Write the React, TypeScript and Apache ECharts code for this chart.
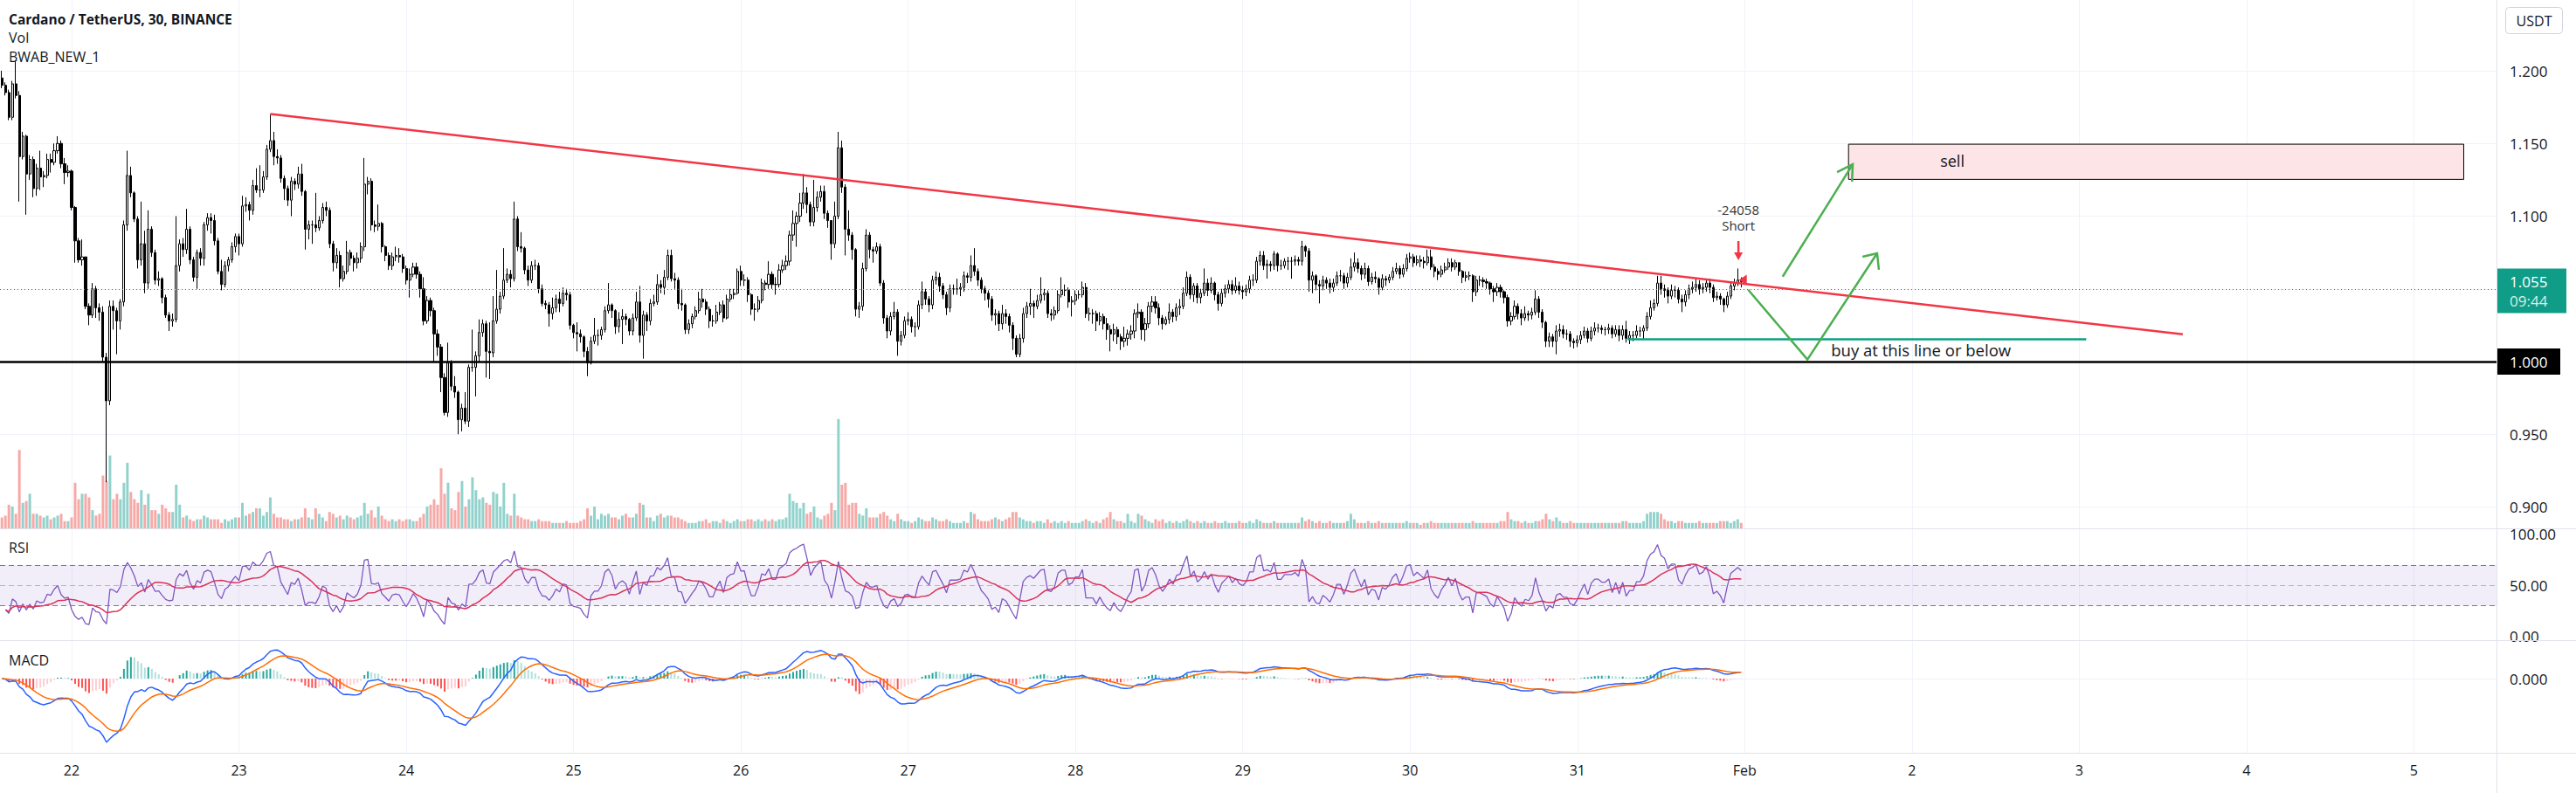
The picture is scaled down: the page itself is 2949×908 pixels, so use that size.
import React, { useEffect, useRef } from "react";
import * as echarts from "echarts";

// ---------- DATA (30-minute candles, ADA/USDT) ----------
const firstOpen = 1.195;
// each candle: [close, high, low]; open = previous close
const jan21 = [
  [1.190,1.200,1.188],[1.185,1.192,1.183],[1.168,1.187,1.166],[1.191,1.193,1.166],[1.183,1.207,1.181],
  [1.141,1.186,1.110],[1.155,1.158,1.139],[1.129,1.156,1.101],[1.139,1.142,1.125],[1.119,1.141,1.113],
  [1.133,1.136,1.114],[1.127,1.145,1.118],[1.128,1.131,1.120],[1.139,1.143,1.126],[1.137,1.143,1.130],
  [1.145,1.150,1.135],[1.150,1.155,1.143],[1.136,1.152,1.133],[1.130,1.140,1.122],[1.131,1.135,1.127]];
const jan22 = [
  [1.106,1.132,1.104],[1.083,1.107,1.068],[1.070,1.085,1.068],[1.072,1.084,1.066],[1.038,1.072,1.036],
  [1.032,1.040,1.025],[1.050,1.054,1.030],[1.037,1.052,1.030],[1.034,1.040,1.028],[1.003,1.038,1.000],
  [0.973,1.006,0.917],[1.038,1.042,0.970],[1.035,1.042,1.022],[1.028,1.037,1.005],[1.041,1.043,1.022],
  [1.094,1.097,1.038],[1.128,1.145,1.090],[1.116,1.134,1.113],[1.098,1.117,1.096],[1.070,1.100,1.064],
  [1.081,1.110,1.066],[1.054,1.090,1.047],[1.091,1.104,1.050],[1.075,1.093,1.072],[1.056,1.077,1.053],
  [1.057,1.062,1.052],[1.044,1.058,1.040],[1.032,1.046,1.030],[1.028,1.034,1.021],[1.029,1.033,1.024],
  [1.066,1.100,1.027],[1.081,1.084,1.062],[1.077,1.085,1.072],[1.091,1.105,1.074],[1.070,1.093,1.067],
  [1.058,1.072,1.055],[1.075,1.077,1.050],[1.071,1.078,1.066],[1.094,1.096,1.066],[1.099,1.102,1.090],
  [1.097,1.102,1.088],[1.083,1.101,1.080],[1.062,1.085,1.060],[1.053,1.070,1.049],[1.066,1.069,1.051],
  [1.070,1.072,1.062],[1.079,1.082,1.068],[1.086,1.088,1.075]];
const jan23 = [
  [1.081,1.088,1.073],[1.107,1.114,1.079],[1.108,1.113,1.103],[1.104,1.110,1.097],[1.121,1.125,1.101],
  [1.118,1.133,1.116],[1.118,1.135,1.113],[1.127,1.131,1.116],[1.146,1.149,1.125],[1.152,1.170,1.144],
  [1.141,1.158,1.135],[1.140,1.146,1.136],[1.126,1.142,1.123],[1.119,1.128,1.111],[1.111,1.121,1.107],
  [1.124,1.127,1.100],[1.122,1.126,1.118],[1.129,1.134,1.119],[1.117,1.136,1.114],[1.091,1.118,1.077],
  [1.094,1.097,1.084],[1.094,1.097,1.081],[1.092,1.116,1.089],[1.097,1.100,1.090],[1.106,1.109,1.095],
  [1.104,1.110,1.100],[1.081,1.106,1.078],[1.068,1.083,1.062],[1.073,1.078,1.064],[1.057,1.076,1.051],
  [1.062,1.066,1.055],[1.075,1.083,1.060],[1.071,1.077,1.066],[1.068,1.073,1.062],[1.071,1.075,1.064],
  [1.079,1.082,1.068],[1.122,1.140,1.076],[1.124,1.127,1.115],[1.094,1.126,1.090],[1.093,1.097,1.089],
  [1.095,1.108,1.090],[1.079,1.096,1.075],[1.073,1.080,1.069],[1.066,1.075,1.063],[1.072,1.075,1.063],
  [1.073,1.079,1.069],[1.072,1.078,1.068],[1.064,1.074,1.061]];
const jan24 = [
  [1.056,1.066,1.053],[1.060,1.064,1.044],[1.065,1.068,1.058],[1.060,1.068,1.057],[1.050,1.062,1.044],
  [1.028,1.058,1.025],[1.042,1.045,1.026],[1.035,1.044,1.031],[1.019,1.037,1.000],[1.010,1.022,1.004],
  [0.989,1.012,0.979],[0.965,0.992,0.963],[0.999,1.013,0.962],[0.983,1.001,0.980],[0.979,0.990,0.975],
  [0.960,0.980,0.950],[0.968,0.971,0.952],[0.959,0.979,0.957],[0.996,0.998,0.955],[0.996,1.022,0.993],
  [1.004,1.007,0.976],[1.020,1.029,1.000],[1.026,1.029,1.017],[1.007,1.028,0.989],[1.006,1.027,0.988],
  [1.028,1.045,1.003],[1.036,1.063,1.026],[1.045,1.048,1.033],[1.056,1.078,1.043],[1.060,1.064,1.054],
  [1.057,1.063,1.051],[1.098,1.110,1.055],[1.079,1.100,1.076],[1.078,1.089,1.075],[1.063,1.079,1.060],
  [1.056,1.066,1.052],[1.066,1.069,1.054],[1.066,1.070,1.063],[1.050,1.068,1.047],[1.040,1.053,1.038],
  [1.039,1.042,1.036],[1.033,1.041,1.024],[1.037,1.044,1.029],[1.043,1.046,1.034],[1.040,1.048,1.034],
  [1.047,1.051,1.038],[1.046,1.050,1.042],[1.025,1.048,1.022]];
const jan25 = [
  [1.020,1.026,1.016],[1.019,1.027,1.007],[1.017,1.022,1.013],[1.007,1.018,1.003],[0.999,1.010,0.990],
  [1.014,1.017,0.998],[1.018,1.030,1.012],[1.018,1.022,1.011],[1.022,1.024,1.015],[1.035,1.038,1.020],
  [1.039,1.054,1.033],[1.035,1.040,1.030],[1.024,1.036,1.019],[1.029,1.034,1.020],[1.031,1.036,1.012],
  [1.029,1.033,1.025],[1.021,1.030,1.018],[1.030,1.033,1.018],[1.041,1.048,1.028],[1.018,1.052,1.013],
  [1.032,1.035,1.002],[1.028,1.034,1.021],[1.040,1.043,1.025],[1.041,1.046,1.038],[1.053,1.060,1.039],
  [1.051,1.056,1.047],[1.058,1.063,1.046],[1.073,1.077,1.056],[1.057,1.077,1.055],[1.056,1.061,1.050],
  [1.040,1.058,1.036],[1.039,1.050,1.035],[1.022,1.040,1.019],[1.026,1.029,1.019],[1.031,1.033,1.023],
  [1.035,1.038,1.029],[1.043,1.048,1.033],[1.041,1.050,1.037],[1.036,1.043,1.032],[1.028,1.038,1.023],
  [1.028,1.032,1.024],[1.034,1.039,1.026],[1.039,1.041,1.032],[1.030,1.042,1.027],[1.043,1.046,1.029],
  [1.046,1.050,1.041],[1.047,1.050,1.043],[1.062,1.064,1.046]];
const jan26 = [
  [1.056,1.066,1.052],[1.056,1.060,1.052],[1.046,1.058,1.041],[1.036,1.047,1.032],[1.036,1.040,1.028],
  [1.042,1.045,1.034],[1.054,1.057,1.040],[1.053,1.056,1.049],[1.060,1.069,1.050],[1.053,1.062,1.050],
  [1.053,1.058,1.046],[1.063,1.067,1.051],[1.066,1.070,1.061],[1.069,1.073,1.063],[1.087,1.090,1.066],
  [1.095,1.104,1.083],[1.100,1.103,1.079],[1.109,1.116,1.096],[1.116,1.129,1.105],[1.108,1.120,1.102],
  [1.096,1.110,1.093],[1.106,1.125,1.093],[1.113,1.117,1.103],[1.117,1.121,1.110],[1.102,1.121,1.098],
  [1.097,1.104,1.092],[1.081,1.097,1.070],[1.100,1.110,1.078],[1.147,1.158,1.098],[1.120,1.152,1.116],
  [1.091,1.122,1.073],[1.087,1.104,1.083],[1.077,1.089,1.070],[1.036,1.078,1.031],[1.038,1.041,1.030],
  [1.064,1.068,1.035],[1.087,1.091,1.062],[1.077,1.089,1.071],[1.076,1.079,1.068],[1.079,1.082,1.074],
  [1.054,1.081,1.052],[1.030,1.056,1.026],[1.021,1.032,1.016],[1.031,1.034,1.018],[1.034,1.041,1.029],
  [1.014,1.036,1.004],[1.018,1.021,1.011],[1.028,1.031,1.016]];
const jan27 = [
  [1.029,1.034,1.025],[1.024,1.031,1.020],[1.024,1.027,1.017],[1.039,1.042,1.022],[1.048,1.055,1.036],
  [1.043,1.050,1.039],[1.039,1.045,1.034],[1.056,1.059,1.036],[1.058,1.062,1.053],[1.052,1.061,1.048],
  [1.046,1.054,1.043],[1.037,1.048,1.032],[1.050,1.053,1.034],[1.050,1.053,1.046],[1.050,1.057,1.046],
  [1.051,1.054,1.045],[1.059,1.062,1.048],[1.058,1.061,1.054],[1.066,1.073,1.055],[1.062,1.078,1.059],
  [1.056,1.064,1.052],[1.050,1.058,1.047],[1.047,1.052,1.042],[1.043,1.049,1.037],[1.032,1.045,1.028],
  [1.033,1.036,1.025],[1.026,1.035,1.021],[1.033,1.039,1.022],[1.031,1.036,1.026],[1.025,1.033,1.020],
  [1.016,1.027,1.008],[1.005,1.018,1.003],[1.016,1.019,1.003],[1.033,1.037,1.013],[1.038,1.041,1.030],
  [1.040,1.050,1.032],[1.038,1.042,1.030],[1.042,1.046,1.036],[1.046,1.058,1.040],[1.047,1.050,1.042],
  [1.033,1.049,1.030],[1.032,1.036,1.028],[1.035,1.038,1.029],[1.046,1.049,1.033],[1.049,1.058,1.044],
  [1.049,1.053,1.045],[1.041,1.051,1.037],[1.042,1.045,1.031]];
const jan28 = [
  [1.046,1.049,1.039],[1.046,1.049,1.043],[1.051,1.055,1.044],[1.033,1.054,1.030],[1.033,1.037,1.028],
  [1.033,1.036,1.026],[1.028,1.035,1.021],[1.031,1.034,1.025],[1.026,1.033,1.022],[1.022,1.030,1.015],
  [1.019,1.025,1.007],[1.022,1.026,1.014],[1.017,1.024,1.012],[1.014,1.019,1.008],[1.016,1.024,1.010],
  [1.019,1.022,1.011],[1.021,1.025,1.015],[1.033,1.036,1.016],[1.034,1.040,1.030],[1.022,1.036,1.015],
  [1.026,1.030,1.014],[1.038,1.041,1.023],[1.041,1.045,1.034],[1.037,1.045,1.033],[1.030,1.040,1.025],
  [1.026,1.032,1.022],[1.029,1.031,1.025],[1.034,1.040,1.026],[1.031,1.036,1.027],[1.037,1.040,1.028],
  [1.038,1.043,1.032],[1.047,1.051,1.036],[1.058,1.062,1.045],[1.046,1.060,1.043],[1.052,1.054,1.041],
  [1.044,1.054,1.040],[1.047,1.050,1.040],[1.054,1.064,1.045],[1.049,1.057,1.045],[1.054,1.058,1.047],
  [1.046,1.055,1.042],[1.040,1.048,1.035],[1.047,1.050,1.038],[1.050,1.053,1.044],[1.053,1.056,1.047],
  [1.049,1.056,1.046],[1.052,1.058,1.047],[1.049,1.055,1.046]];
const jan29 = [
  [1.048,1.052,1.043],[1.050,1.053,1.045],[1.056,1.059,1.047],[1.056,1.060,1.052],[1.069,1.072,1.054],
  [1.073,1.076,1.066],[1.066,1.076,1.063],[1.067,1.070,1.057],[1.066,1.069,1.062],[1.074,1.076,1.063],
  [1.066,1.075,1.062],[1.066,1.070,1.063],[1.069,1.071,1.064],[1.069,1.072,1.063],[1.069,1.072,1.057],
  [1.070,1.073,1.066],[1.069,1.072,1.066],[1.079,1.083,1.066],[1.076,1.080,1.072],[1.056,1.078,1.048],
  [1.059,1.062,1.047],[1.053,1.060,1.049],[1.052,1.056,1.040],[1.056,1.059,1.049],[1.054,1.058,1.050],
  [1.051,1.057,1.047],[1.054,1.057,1.048],[1.059,1.062,1.052],[1.059,1.063,1.055],[1.054,1.061,1.050],
  [1.058,1.061,1.051],[1.065,1.071,1.056],[1.068,1.075,1.062],[1.064,1.071,1.061],[1.060,1.066,1.056],
  [1.064,1.068,1.057],[1.055,1.066,1.052],[1.058,1.061,1.053],[1.057,1.062,1.054],[1.051,1.058,1.046],
  [1.057,1.060,1.049],[1.056,1.059,1.052],[1.058,1.060,1.054],[1.062,1.065,1.056],[1.064,1.068,1.060],
  [1.060,1.066,1.057],[1.064,1.067,1.058],[1.071,1.074,1.062]];
const jan30 = [
  [1.072,1.075,1.068],[1.068,1.074,1.065],[1.070,1.073,1.066],[1.069,1.073,1.065],[1.068,1.072,1.064],
  [1.072,1.077,1.066],[1.065,1.077,1.063],[1.062,1.067,1.058],[1.060,1.064,1.056],[1.063,1.066,1.058],
  [1.065,1.068,1.061],[1.068,1.071,1.063],[1.065,1.071,1.062],[1.068,1.070,1.063],[1.062,1.068,1.059],
  [1.058,1.063,1.054],[1.059,1.062,1.055],[1.059,1.062,1.056],[1.048,1.060,1.041],[1.056,1.059,1.045],
  [1.056,1.059,1.052],[1.055,1.058,1.051],[1.054,1.057,1.050],[1.050,1.055,1.046],[1.048,1.052,1.041],
  [1.051,1.054,1.045],[1.048,1.053,1.044],[1.044,1.049,1.040],[1.028,1.046,1.024],[1.031,1.034,1.025],
  [1.038,1.042,1.029],[1.033,1.040,1.029],[1.030,1.036,1.025],[1.033,1.038,1.028],[1.032,1.035,1.028],
  [1.034,1.037,1.029],[1.043,1.049,1.032],[1.034,1.045,1.030],[1.027,1.036,1.023],[1.014,1.028,1.010],
  [1.017,1.020,1.010],[1.014,1.019,1.010],[1.021,1.025,1.005],[1.022,1.026,1.017],[1.019,1.025,1.016],
  [1.019,1.022,1.015],[1.014,1.021,1.010],[1.013,1.016,1.009]];
const jan31 = [
  [1.015,1.018,1.010],[1.018,1.021,1.012],[1.021,1.024,1.016],[1.016,1.023,1.013],[1.021,1.024,1.014],
  [1.023,1.027,1.018],[1.023,1.026,1.020],[1.022,1.025,1.019],[1.022,1.024,1.018],[1.023,1.026,1.019],
  [1.019,1.025,1.016],[1.022,1.025,1.017],[1.018,1.025,1.014],[1.022,1.025,1.015],[1.016,1.028,1.013],
  [1.018,1.021,1.012],[1.018,1.021,1.014],[1.021,1.025,1.016],[1.021,1.024,1.017],[1.023,1.025,1.015],
  [1.031,1.034,1.021],[1.037,1.042,1.029],[1.040,1.043,1.035],[1.054,1.059,1.038],[1.050,1.059,1.046],
  [1.049,1.053,1.044],[1.045,1.051,1.040],[1.049,1.053,1.043],[1.049,1.052,1.044],[1.043,1.051,1.040],
  [1.041,1.046,1.034],[1.046,1.049,1.038],[1.050,1.053,1.043],[1.051,1.055,1.047],[1.053,1.057,1.048],
  [1.050,1.056,1.046],[1.051,1.054,1.047],[1.054,1.057,1.048],[1.051,1.057,1.047],[1.044,1.053,1.041],
  [1.045,1.048,1.042],[1.043,1.047,1.039],[1.039,1.044,1.034],[1.045,1.048,1.037],[1.052,1.055,1.043],
  [1.054,1.057,1.049],[1.056,1.064,1.052],[1.055,1.058,1.051]];
const candleDays = [jan21, jan22, jan23, jan24, jan25, jan26, jan27, jan28, jan29, jan30, jan31];

// volume per candle, millions of ADA
const vol21 = [6,7,13,12,8,43,14,15,19,8,8,7,6,7,5,6,7,8,4,4];
const vol22 = [6,25,16,19,19,17,10,7,8,29,26,40,16,19,16,25,36,20,16,14,21,13,19,10,10,8,13,11,9,9,24,13,6,7,5,4,5,5,7,6,5,5,5,3,5,4,5,6];
const vol23 = [6,14,7,8,9,11,11,7,9,17,8,6,6,5,5,4,5,5,6,11,6,5,11,8,6,4,9,8,6,7,5,7,6,5,6,7,14,8,10,6,12,7,5,4,5,4,5,4];
const vol24 = [5,5,4,4,6,8,12,13,16,13,33,19,25,11,10,20,26,12,16,28,21,16,17,14,13,20,19,12,25,8,7,19,7,6,5,5,4,4,5,4,4,4,3,3,3,3,4,3];
const vol25 = [3,3,4,5,11,7,12,5,8,7,8,6,6,5,7,8,6,6,8,14,13,6,6,4,7,8,6,7,7,6,6,5,4,3,3,3,4,4,5,3,4,4,3,5,4,3,4,5];
const vol26 = [4,4,5,5,4,5,4,5,4,5,4,5,5,6,19,15,14,11,14,8,9,12,6,5,7,8,14,10,60,24,25,13,14,14,8,7,11,6,6,6,8,9,7,5,4,8,5,4];
const vol27 = [4,3,4,6,5,4,4,6,5,4,4,5,4,3,3,3,4,3,9,8,5,4,4,4,5,6,5,4,5,6,9,9,6,5,4,4,3,4,4,3,5,3,4,3,4,3,4,3];
const vol28 = [3,3,4,5,4,3,4,3,5,6,9,5,4,4,3,8,4,3,8,7,5,4,3,5,4,5,3,4,3,4,3,4,5,4,3,4,3,4,3,3,4,3,3,4,3,3,3,4];
const vol29 = [3,3,4,3,5,4,3,3,3,4,3,3,3,3,3,3,3,6,4,5,4,3,4,3,3,4,3,3,3,3,4,8,5,3,3,3,4,3,3,4,3,3,3,3,3,3,3,4];
const vol30 = [3,3,3,2,3,3,4,3,3,3,3,3,3,3,3,3,3,3,4,3,3,3,3,3,3,3,4,4,9,5,4,4,3,4,3,3,4,4,5,8,5,4,6,4,3,3,4,3];
const vol31 = [3,3,3,3,3,3,3,3,3,3,3,3,3,4,4,3,3,3,3,4,8,9,9,9,8,5,4,4,3,4,4,3,3,3,3,4,3,3,3,3,3,4,4,4,3,4,5,3];
const volumeDays = [vol21, vol22, vol23, vol24, vol25, vol26, vol27, vol28, vol29, vol30, vol31];

// time axis: candle index of each day boundary, and its label
const dayTickIndex = [20, 68, 116, 164, 212, 260, 308, 356, 404, 452, 500, 548, 596, 644, 692];
const dayTickLabels = ["22", "23", "24", "25", "26", "27", "28", "29", "30", "31", "Feb", "2", "3", "4", "5"];
const priceGridTicks = [0.9, 0.95, 1.0, 1.05, 1.1, 1.15, 1.2];
const priceLabelTicks = [0.9, 0.95, 1.1, 1.15, 1.2];
const rsiLabelTicks = [0, 50, 100];
const rsiBandLevels = [70, 50, 30];
const rsiLength = 7;
const rsiMaLength = 14;

// drawings (candle index, price)
const trendLine = [[77, 1.1703], [625.7, 1.0188]];
const buyLine = [[466.4, 1.0153], [598.0, 1.0153]];
const supportLevel = 1.0;
const lastPrice = 1.055;
const countdown = "09:44";
const sellBox = [[529.8, 1.1495], [706.3, 1.1253]];
const arrowDownUp = [[501.0, 1.0494], [518.0, 1.0014], [538.0, 1.0745]];
const arrowDownUpHead = [[533.8, 1.0721], [538.0, 1.0745], [538.5, 1.0631]];
const arrowUp = [[510.9, 1.0584], [531.0, 1.1357]];
const arrowUpHead = [[526.5, 1.1303], [531.0, 1.1357], [530.8, 1.1237]];
const buyTextAt = [524.8, 1.0084];
const sellTextAt = [556.1, 1.1381];
const signalText = ["-24058", "Short"];
const signalAt = { k: 498.2, text1: 1.1045, text2: 1.0937, arrowTop: 1.0829, arrowTip: 1.0697, markerK: 499.6, markerP: 1.0562 };

// ---------- helpers ----------
const FONT = "'Open Sans', 'Noto Sans', sans-serif";
const X_MIN = -0.55;
const X_MAX = 715.7;

function buildSeriesData() {
  const candles: number[][] = [];
  const closes: number[] = [];
  let prev = firstOpen;
  candleDays.flat().forEach((c, i) => {
    const [cl, h, l] = c;
    candles.push([i, prev, cl, Math.min(l, prev, cl), Math.max(h, prev, cl)]);
    closes.push(cl);
    prev = cl;
  });
  const vols = volumeDays.flat();
  const volData = vols.map((v, i) => ({
    value: [i, v],
    itemStyle: { color: candles[i][2] >= candles[i][1] ? "#92D2CC" : "#F7A9A7" },
  }));
  // RSI (Wilder)
  const n = rsiLength;
  let ag = 0, al = 0;
  for (let i = 1; i <= n; i++) {
    const d = closes[i] - closes[i - 1];
    ag += Math.max(d, 0) / n;
    al += Math.max(-d, 0) / n;
  }
  const rsi: (number | null)[] = [null];
  let g = ag, l = al;
  for (let i = 1; i < closes.length; i++) {
    const d = closes[i] - closes[i - 1];
    g = (g * (n - 1) + Math.max(d, 0)) / n;
    l = (l * (n - 1) + Math.max(-d, 0)) / n;
    rsi.push(l === 0 ? 100 : 100 - 100 / (1 + g / l));
  }
  const m = rsiMaLength;
  const rsiMa: (number | null)[] = rsi.map((_, i) => {
    const w = rsi.slice(Math.max(1, i - m + 1), i + 1).filter((v) => v != null) as number[];
    return w.length ? w.reduce((a, b) => a + b, 0) / w.length : null;
  });
  // MACD 12/26/9
  const ema = (arr: number[], p: number) => {
    const a = 2 / (p + 1);
    let e = arr[0];
    return arr.map((v) => (e = a * v + (1 - a) * e));
  };
  const e12 = ema(closes, 12);
  const e26 = ema(closes, 26);
  const macd = closes.map((_, i) => e12[i] - e26[i]);
  const signal = ema(macd, 9);
  const hist = macd.map((mv, i) => mv - signal[i]);
  const histData = hist.map((h, i) => {
    const p = i > 0 ? hist[i - 1] : h;
    const color = h >= 0 ? (h >= p ? "#26A69A" : "#B2DFDB") : (h < p ? "#FF5252" : "#FFCDD2");
    return { value: [i, h], itemStyle: { color } };
  });
  return { candles, volData, rsi, rsiMa, macd, signal, histData };
}

export default function App() {
  const ref = useRef<HTMLDivElement>(null);
  useEffect(() => {
    const el = ref.current;
    if (!el) return;
    const chart = echarts.init(el, null, { renderer: "svg" });
    const { candles, volData, rsi, rsiMa, macd, signal, histData } = buildSeriesData();

    const macdLow = Math.min(...macd, ...signal);
    const macdUnit = 73 / -macdLow; // px per unit
    const macdMax = 43 / macdUnit;
    const macdMin = -85 / macdUnit;

    const gridLine = { show: true, lineStyle: { color: "#F0F3FA", width: 1 } };
    const xBase = {
      type: "value" as const,
      min: X_MIN,
      max: X_MAX,
      axisLine: { show: false },
      axisTick: { show: false, customValues: dayTickIndex },
      axisLabel: { show: false },
      splitLine: gridLine,
    };
    const labelStyle = { color: "#131722", fontSize: 17, fontFamily: FONT, align: "left" as const, margin: 15 };

    chart.setOption({
      animation: false,
      backgroundColor: "#ffffff",
      textStyle: { fontFamily: FONT },
      grid: [
        { left: 0, top: 0, width: 2858, height: 605 },
        { left: 0, top: 0, width: 2858, height: 605 },
        { left: 0, top: 606, width: 2858, height: 127 },
        { left: 0, top: 734, width: 2858, height: 128 },
      ],
      xAxis: [
        { ...xBase, gridIndex: 0 },
        { ...xBase, gridIndex: 1, splitLine: { show: false } },
        { ...xBase, gridIndex: 2 },
        {
          ...xBase,
          gridIndex: 3,
          axisLabel: {
            show: true,
            customValues: dayTickIndex,
            formatter: (v: number) => {
              const i = dayTickIndex.indexOf(Math.round(v));
              return i >= 0 ? dayTickLabels[i] : "";
            },
            color: "#131722",
            fontSize: 16,
            fontFamily: FONT,
            margin: 12,
          },
        },
      ],
      yAxis: [
        {
          type: "value", gridIndex: 0, position: "right", min: 0.88529, max: 1.24865,
          axisLine: { show: false },
          axisTick: { show: false, customValues: priceGridTicks },
          axisLabel: { ...labelStyle, customValues: priceLabelTicks, formatter: (v: number) => v.toFixed(3) },
          splitLine: gridLine,
        },
        { type: "value", gridIndex: 1, min: 0, max: 290, show: false, splitLine: { show: false } },
        {
          type: "value", gridIndex: 2, position: "right", min: -3.5, max: 104.8,
          axisLine: { show: false },
          axisTick: { show: false, customValues: rsiLabelTicks },
          axisLabel: { ...labelStyle, customValues: rsiLabelTicks, formatter: (v: number) => v.toFixed(2) },
          splitLine: { show: false },
        },
        {
          type: "value", gridIndex: 3, position: "right", min: macdMin, max: macdMax,
          axisLine: { show: false },
          axisTick: { show: false, customValues: [0] },
          axisLabel: { ...labelStyle, customValues: [0], formatter: () => "0.000" },
          splitLine: gridLine,
        },
      ],
      series: [
        {
          type: "candlestick",
          name: "ADAUSDT",
          xAxisIndex: 0, yAxisIndex: 0,
          dimensions: ["k", "open", "close", "lowest", "highest"],
          encode: { x: 0, y: [1, 2, 3, 4] },
          data: candles,
          barWidth: 2.6,
          z: 3,
          itemStyle: { color: "#ffffff", color0: "#000000", borderColor: "#000000", borderColor0: "#000000", borderWidth: 1 },
          markLine: {
            silent: true, symbol: ["none", "none"], label: { show: false }, animation: false,
            data: [
              { yAxis: supportLevel, lineStyle: { color: "#000000", width: 2.5, type: "solid" } },
              { yAxis: lastPrice, lineStyle: { color: "#089981", width: 1, type: [1, 3] } },
            ],
          },
          markArea: {
            silent: true, label: { show: false },
            itemStyle: { color: "#FDE4E7", borderColor: "#000000", borderWidth: 1 },
            data: [[{ coord: sellBox[0] }, { coord: sellBox[1] }]],
          },
        },
        {
          type: "bar", name: "Vol", xAxisIndex: 1, yAxisIndex: 1, data: volData, barWidth: 3, z: 1,
        },
        {
          type: "line", name: "trend", xAxisIndex: 0, yAxisIndex: 0, data: trendLine, symbol: "none", z: 5,
          lineStyle: { color: "#F23645", width: 2.5 },
        },
        {
          type: "line", name: "buy", xAxisIndex: 0, yAxisIndex: 0, data: buyLine, symbol: "none", z: 5,
          lineStyle: { color: "#0C9F83", width: 2.5 },
        },
        {
          type: "lines", name: "arrows", coordinateSystem: "cartesian2d", xAxisIndex: 0, yAxisIndex: 0,
          polyline: true, z: 6,
          lineStyle: { color: "#4CAF50", width: 2.5, opacity: 1 },
          data: [
            { coords: arrowDownUp }, { coords: arrowDownUpHead },
            { coords: arrowUp }, { coords: arrowUpHead },
          ],
        },
        {
          type: "line", name: "RSI", xAxisIndex: 2, yAxisIndex: 2, showSymbol: false, symbol: "none",
          data: rsi.map((v, i) => [i, v]),
          lineStyle: { color: "#7E57C2", width: 1.3 },
          markArea: {
            silent: true, label: { show: false },
            itemStyle: { color: "rgba(126,87,194,0.1)" },
            data: [[{ yAxis: rsiBandLevels[0] }, { yAxis: rsiBandLevels[2] }]],
          },
          markLine: {
            silent: true, symbol: ["none", "none"], label: { show: false },
            data: rsiBandLevels.map((v, i) => ({
              yAxis: v,
              lineStyle: { color: i === 1 ? "rgba(120,123,134,0.5)" : "#787B86", width: 1, type: [6, 4] },
            })),
          },
        },
        {
          type: "line", name: "RSI MA", xAxisIndex: 2, yAxisIndex: 2, showSymbol: false, symbol: "none",
          data: rsiMa.map((v, i) => [i, v]),
          lineStyle: { color: "#D9315B", width: 1.5 },
        },
        {
          type: "bar", name: "Histogram", xAxisIndex: 3, yAxisIndex: 3, data: histData, barWidth: 2,
        },
        {
          type: "line", name: "MACD", xAxisIndex: 3, yAxisIndex: 3, showSymbol: false, symbol: "none",
          data: macd.map((v, i) => [i, v]),
          lineStyle: { color: "#2962FF", width: 1.5 },
        },
        {
          type: "line", name: "Signal", xAxisIndex: 3, yAxisIndex: 3, showSymbol: false, symbol: "none",
          data: signal.map((v, i) => [i, v]),
          lineStyle: { color: "#FF6D00", width: 1.5 },
        },
      ],
    });

    const pt = (k: number, p: number) => chart.convertToPixel({ seriesIndex: 0 }, [k, p]) as number[];
    const axisX = 2858;
    const W = 2949;
    const g: any[] = [];
    const text = (x: number, y: number, t: string, size: number, opts: any = {}) => ({
      type: "text", x, y, z: 70,
      style: { text: t, fill: opts.fill || "#131722", font: `${opts.weight || "normal"} ${size}px ${FONT}`, align: opts.align || "left", verticalAlign: "middle" },
    });
    // separators
    g.push({ type: "line", z: 60, shape: { x1: axisX + 0.5, y1: 0, x2: axisX + 0.5, y2: 908 }, style: { stroke: "#E0E3EB", lineWidth: 1 } });
    [605.5, 733.5, 862.5].forEach((y) =>
      g.push({ type: "line", z: 60, shape: { x1: 0, y1: y, x2: W, y2: y }, style: { stroke: "#E0E3EB", lineWidth: 1 } })
    );
    // legends
    g.push(text(10, 22, "Cardano / TetherUS, 30, BINANCE", 15.5, { weight: "bold" }));
    g.push(text(10, 43, "Vol", 16));
    g.push(text(10, 65, "BWAB_NEW_1", 16));
    g.push(text(10, 627, "RSI", 16));
    g.push(text(10, 756, "MACD", 16));
    // currency badge
    g.push({ type: "rect", z: 70, shape: { x: 2868.5, y: 8.5, width: 65, height: 30, r: 4 }, style: { fill: "#fff", stroke: "#D1D4DC", lineWidth: 1 } });
    g.push(text(2901, 24, "USDT", 16, { align: "center" }));
    // last price badge
    const yLast = pt(0, lastPrice)[1];
    g.push({ type: "rect", z: 70, shape: { x: axisX + 1, y: yLast - 15, width: 79, height: 51 }, style: { fill: "#0F9D88" } });
    g.push(text(axisX + 15, yLast, lastPrice.toFixed(3), 17, { fill: "#ffffff" }));
    g.push(text(axisX + 15, yLast + 22, countdown, 17, { fill: "rgba(255,255,255,0.85)" }));
    // support badge
    const ySup = pt(0, supportLevel)[1];
    g.push({ type: "rect", z: 70, shape: { x: axisX + 1, y: ySup - 15, width: 72, height: 30 }, style: { fill: "#000000" } });
    g.push(text(axisX + 15, ySup, supportLevel.toFixed(3), 17, { fill: "#ffffff" }));
    // annotation texts
    const bt = pt(buyTextAt[0], buyTextAt[1]);
    g.push(text(bt[0], bt[1], "buy at this line or below", 18.5));
    const st = pt(sellTextAt[0], sellTextAt[1]);
    g.push(text(st[0], st[1], "sell", 18));
    const s1 = pt(signalAt.k, signalAt.text1);
    const s2 = pt(signalAt.k, signalAt.text2);
    g.push(text(s1[0], s1[1], signalText[0], 15, { align: "center", fill: "#333" }));
    g.push(text(s2[0], s2[1], signalText[1], 15, { align: "center", fill: "#333" }));
    const aTop = pt(signalAt.k, signalAt.arrowTop);
    const aTip = pt(signalAt.k, signalAt.arrowTip);
    g.push({ type: "line", z: 70, shape: { x1: aTop[0], y1: aTop[1], x2: aTip[0], y2: aTip[1] - 7 }, style: { stroke: "#F23645", lineWidth: 2.5 } });
    g.push({ type: "polygon", z: 70, shape: { points: [[aTip[0] - 5, aTip[1] - 9], [aTip[0] + 5, aTip[1] - 9], [aTip[0], aTip[1]]] }, style: { fill: "#F23645" } });
    const mk = pt(signalAt.markerK, signalAt.markerP);
    g.push({ type: "polygon", z: 70, shape: { points: [[mk[0] - 5, mk[1]], [mk[0] + 4, mk[1] - 6], [mk[0] + 4, mk[1] + 6]] }, style: { fill: "#F23645" } });

    chart.setOption({ graphic: g });
    return () => chart.dispose();
  }, []);
  return (
    <div
      ref={ref}
      style={{ position: "fixed", left: 0, top: 0, width: 2949, height: 908, background: "#ffffff" }}
    />
  );
}
